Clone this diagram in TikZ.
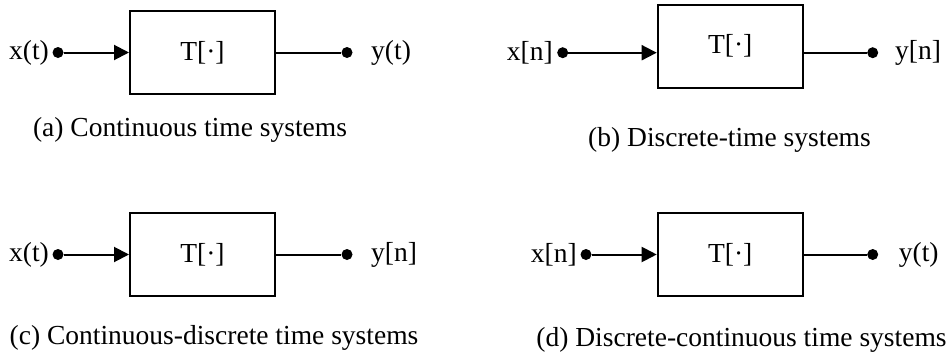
\documentclass[tikz,border=0pt]{standalone}
\usepackage{fontspec}
\setmainfont{Liberation Serif}
\usetikzlibrary{arrows.meta}
\begin{document}
\begin{tikzpicture}[x=1pt,y=-1pt,
  every node/.style={font=\fontsize{27.5}{33}\selectfont},
  sysbox/.style={draw,line width=2pt,minimum width=145pt,minimum height=83pt,inner sep=0pt},
  term/.style={circle,fill,inner sep=0pt,minimum size=11pt},
  wire/.style={line width=2pt},
  arr/.style={wire,-{Triangle[length=15pt,width=15pt]}},
  lbl/.style={inner sep=0pt}]
\useasboundingbox (0,0) rectangle (952,356);
% (a)
\node[sysbox] (ba) at (202.5,52.5) {T[·]};
\node[term] (ia) at (58,52.5) {};
\node[term] (oa) at (347,52.5) {};
\node[lbl,anchor=east] (xa) at (49,52.5) {x(t)};
\node[lbl,anchor=west] (ya) at (371,52.5) {y(t)};
\draw[arr] (ia) -- (ba.west);
\draw[wire] (ba.east) -- (oa);
\node (ca) at (190,130) {(a) Continuous time systems};
% (b)
\node[sysbox] (bb) at (730.2,46) {T[·]};
\node[term] (ib) at (562.7,52.7) {};
\node[term] (ob) at (872.7,52.7) {};
\node[lbl,anchor=east] (xb) at (553,52.7) {x[n]};
\node[lbl,anchor=west] (yb) at (895,52.7) {y[n]};
\draw[arr] (ib) -- (ib -| bb.west);
\draw[wire] (ob -| bb.east) -- (ob);
\node (cb) at (729.5,140) {(b) Discrete-time systems};
% (c)
\node[sysbox] (bc) at (202.5,254.5) {T[·]};
\node[term] (ic) at (58,254.5) {};
\node[term] (oc) at (347,254.5) {};
\node[lbl,anchor=east] (xc) at (49,254.5) {x(t)};
\node[lbl,anchor=west] (yc) at (371,254.5) {y[n]};
\draw[arr] (ic) -- (bc.west);
\draw[wire] (bc.east) -- (oc);
\node (cc) at (214,337.5) {(c) Continuous-discrete time systems};
% (d)
\node[sysbox] (bd) at (730.2,254.5) {T[·]};
\node[term] (id) at (586,254.5) {};
\node[term] (od) at (872.7,254.5) {};
\node[lbl,anchor=east] (xd) at (577,254.5) {x[n]};
\node[lbl,anchor=west] (yd) at (898.7,254.5) {y(t)};
\draw[arr] (id) -- (bd.west);
\draw[wire] (bd.east) -- (od);
\node (cd) at (741.5,339.5) {(d) Discrete-continuous time systems};
\end{tikzpicture}
\end{document}
